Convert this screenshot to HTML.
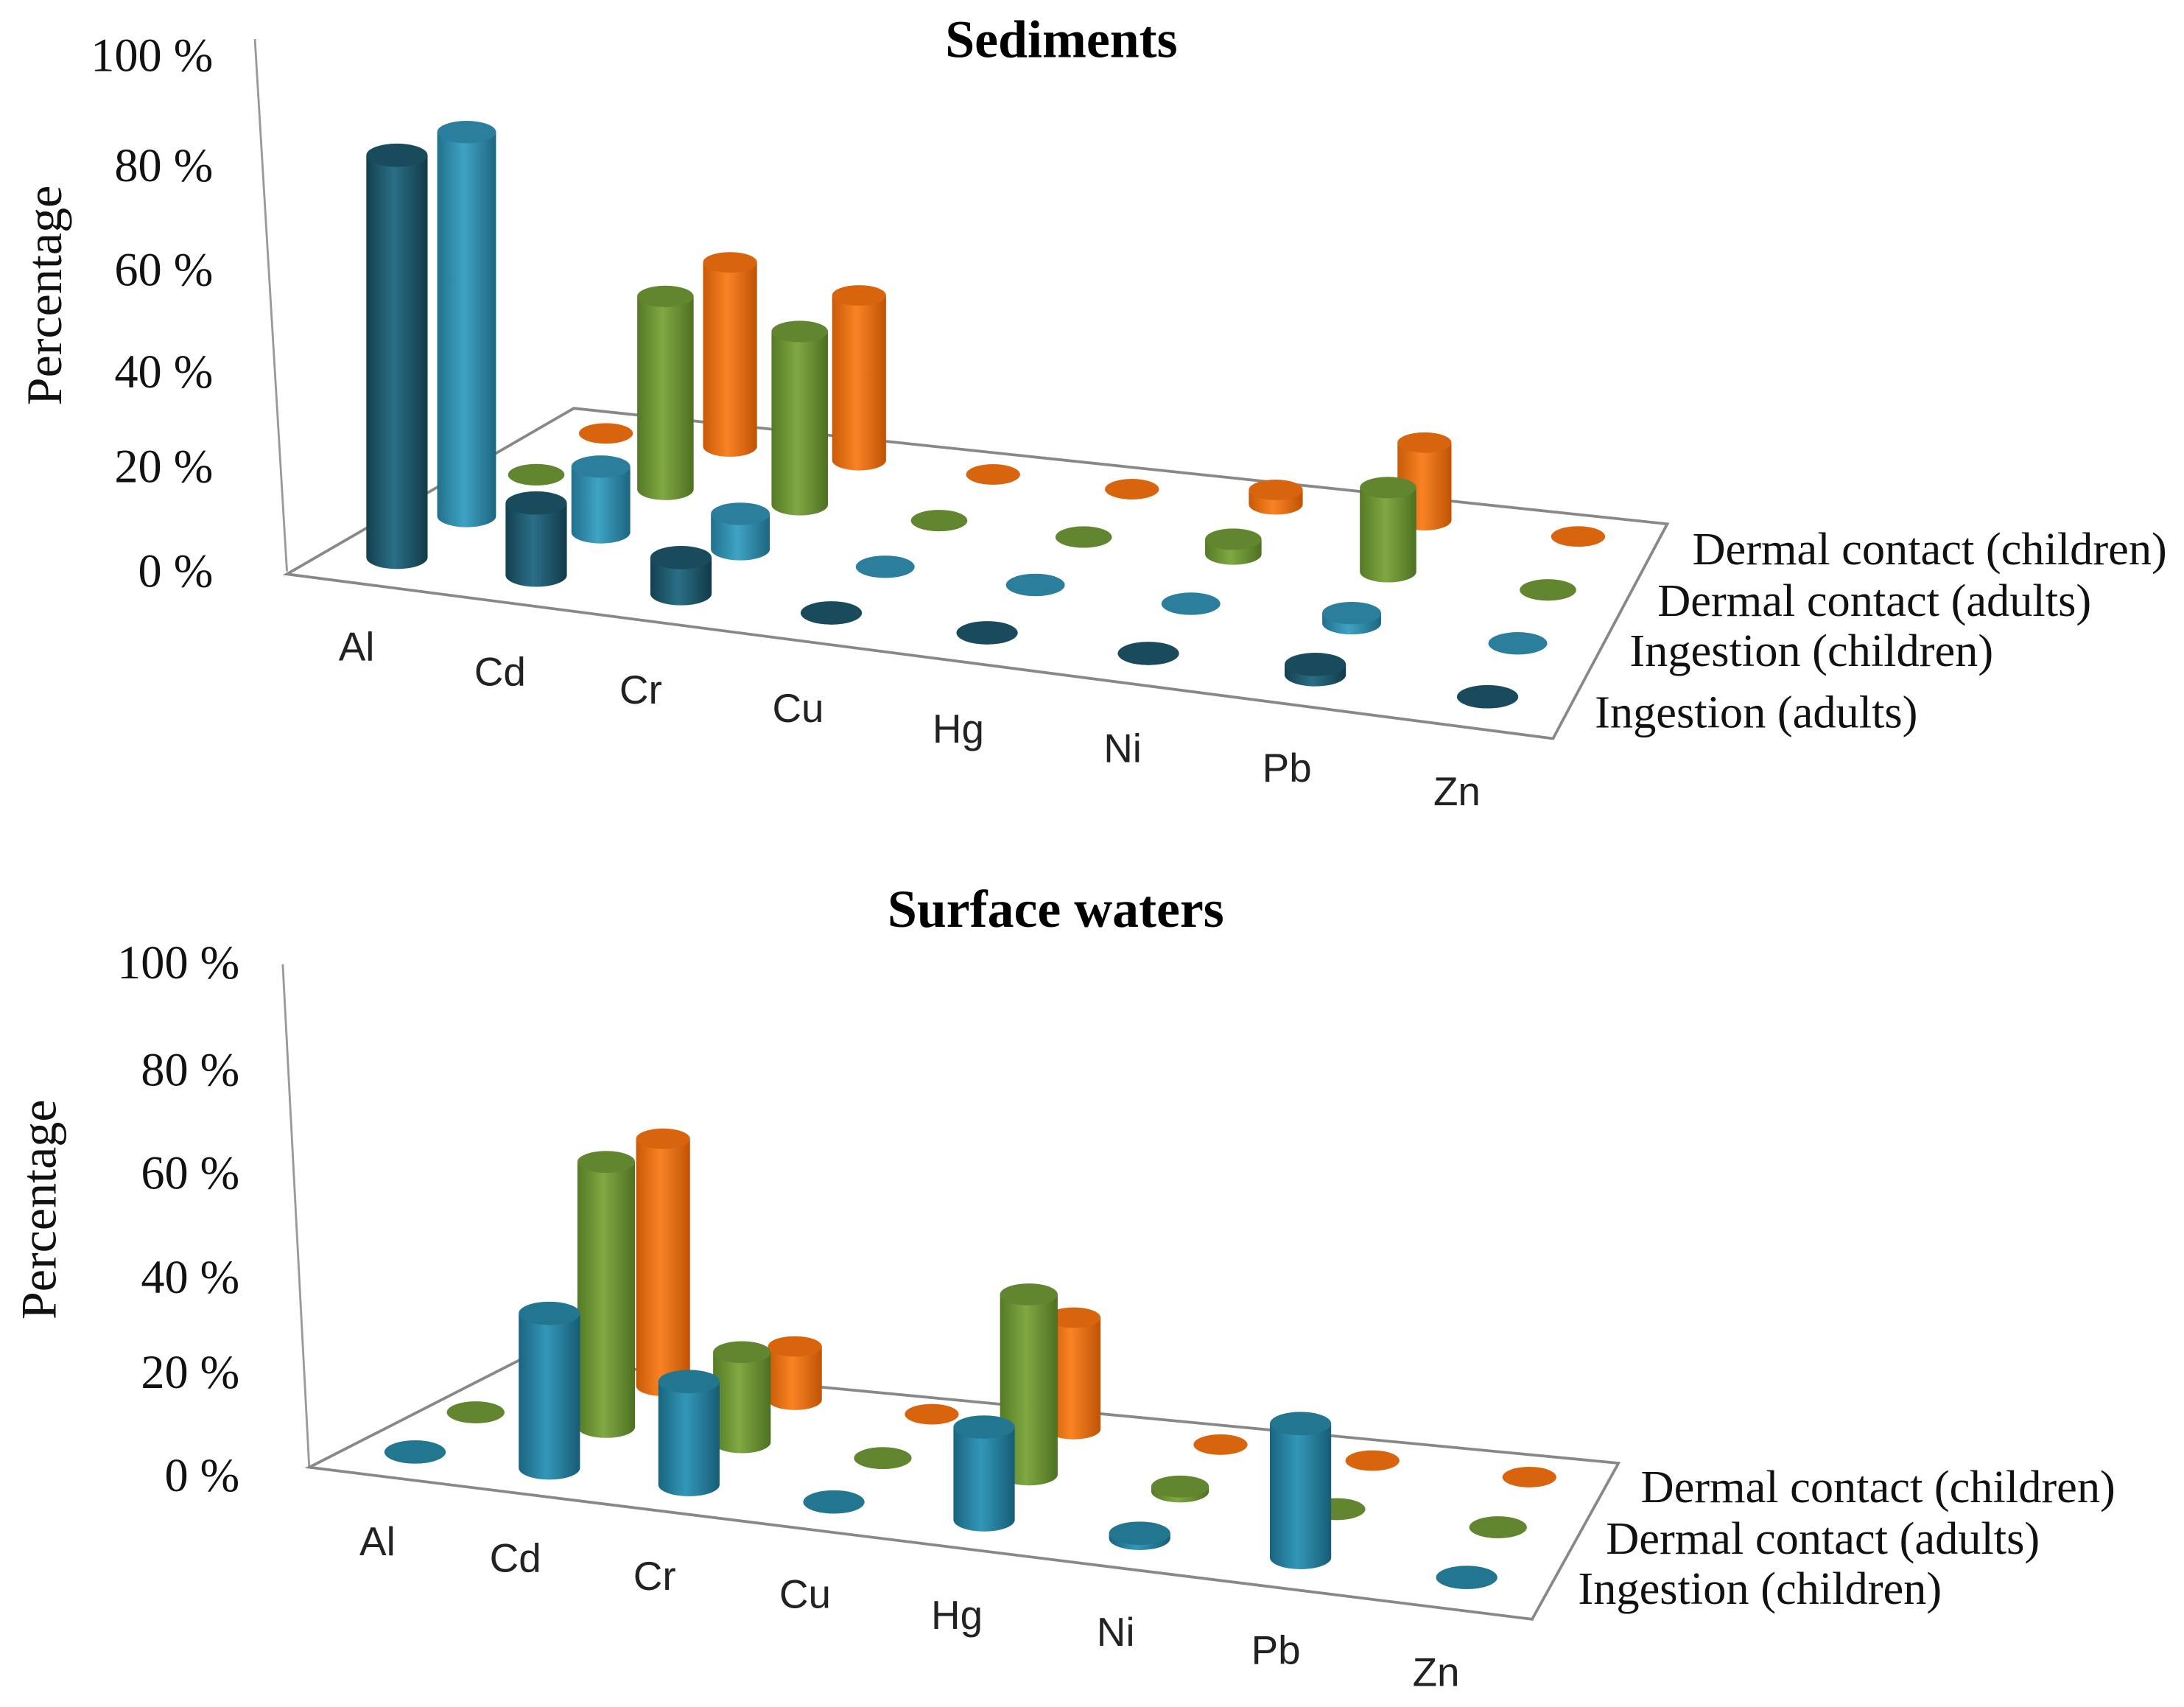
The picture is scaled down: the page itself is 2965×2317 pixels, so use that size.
<!DOCTYPE html>
<html><head><meta charset="utf-8"><style>
html,body{margin:0;padding:0;background:#fff}
svg{display:block}
.tick{font-family:"Liberation Serif",serif;font-size:34px;fill:#111}
.cat{font-family:"Liberation Sans",sans-serif;font-size:29px;fill:#222}
.leg{font-family:"Liberation Serif",serif;font-size:33px;fill:#111}
.ttl{font-family:"Liberation Serif",serif;font-size:38px;font-weight:bold;fill:#000}
</style></head><body>
<svg id="chart" width="2965" height="2317" viewBox="0 0 1568 1225" preserveAspectRatio="none" xmlns="http://www.w3.org/2000/svg">
<defs id="defs"></defs>
<g id="top"></g>
<g id="bot"></g>
</svg>
<script>
const categories = ["Al","Cd","Cr","Cu","Hg","Ni","Pb","Zn"];
const sedSeries = ["Ingestion (adults)","Ingestion (children)","Dermal contact (adults)","Dermal contact (children)"];
const sedIngAdults   = [78, 14, 7, 0, 0, 0, 2, 0];
const sedIngChildren = [76, 13, 7, 0, 0, 0, 2, 0];
const sedDermAdults  = [0, 39, 35, 0, 0, 3, 17, 0];
const sedDermChildren= [0, 38, 34, 0, 0, 3, 16, 0];
const swSeries = ["Ingestion (children)","Dermal contact (adults)","Dermal contact (children)"];
const swIngChildren  = [0, 30, 20, 0, 18, 1, 26, 0];
const swDermAdults   = [0, 53, 18, 0, 36, 1, 0, 0];
const swDermChildren = [null, 51, 11, 0, 23, 0, 0, 0];
const yTicks = ["0 %","20 %","40 %","60 %","80 %","100 %"];

const NS="http://www.w3.org/2000/svg";
function mk(tag,attrs,parent){const e=document.createElementNS(NS,tag);for(const k in attrs)e.setAttribute(k,attrs[k]);parent.appendChild(e);return e;}
const defs=document.getElementById('defs');
const palette={dark:["#14404f","#2a6f86","#123a48"],light:["#22708c","#3fa3c4","#1d6680"],green:["#557a26","#80a843","#4e7022"],orange:["#c95a08","#f98324","#bf5306"],mid:["#1a6580","#3397b8","#175c75"]};
const tops={dark:"#1a4b5c",light:"#2b7f9c",green:"#62852f",orange:"#d8650e",mid:"#22768f"};
for(const k in palette){const g=mk('linearGradient',{id:'g-'+k,x1:0,x2:1,y1:0,y2:0},defs);
 const c=palette[k];mk('stop',{offset:'0',"stop-color":c[0]},g);mk('stop',{offset:'0.45',"stop-color":c[1]},g);mk('stop',{offset:'1',"stop-color":c[2]},g);}
function lerp(a,b,t){return [a[0]+(b[0]-a[0])*t,a[1]+(b[1]-a[1])*t];}
function persp(i){return (98*i+1.98*i*i)/783;}

function drawChart(g,cfg){
 const ax=mk('g',{},g);
 
 
 mk('line',{x1:cfg.vaxis[0][0],y1:cfg.vaxis[0][1],x2:cfg.vaxis[1][0],y2:cfg.vaxis[1][1],stroke:'#999','stroke-width':1.5},ax);
 mk('polygon',{points:cfg.floor.map(p=>p.join(',')).join(' '),fill:'none',stroke:'#888','stroke-width':2},ax);
 yTicks.forEach((t,i)=>{const e=mk('text',{x:cfg.tickX,y:cfg.tickY[i],'text-anchor':'end',class:'tick'},g);e.textContent=t;
  
  });
 const yt=mk('text',{x:0,y:0,transform:`translate(${cfg.ylab[0]},${cfg.ylab[1]}) rotate(-90)`,'text-anchor':'middle',class:'leg',style:'font-size:36px'},g);
 yt.textContent='Percentage';
 
 
 const tt=mk('text',{x:cfg.title[0],y:cfg.title[1],'text-anchor':'middle',class:'ttl'},g);
 tt.textContent=cfg.titleText;
 
 
 categories.forEach((c,i)=>{const e=mk('text',{x:cfg.cat[i][0],y:cfg.cat[i][1],'text-anchor':'middle',class:'cat'},g);e.textContent=c;
  
  });
 cfg.series.forEach((s,j)=>{const e=mk('text',{x:cfg.leg[j][0],y:cfg.leg[j][1],class:'leg'},g);e.textContent=s;
  
  });
 const n=cfg.values.length;
 for(let j=n-1;j>=0;j--){
  const vals=cfg.values[j];const key=cfg.colors[j];
  const t=n>1?j/(n-1):0;
  for(let i=0;i<categories.length;i++){
   const v=vals[i]; if(v===null) continue;
   const u=persp(i);
   const fr=lerp(cfg.rowFront[0],cfg.rowFront[1],u);
   const bk=lerp(cfg.rowBack[0],cfg.rowBack[1],u);
   const p=lerp(fr,bk,t);
   const r=cfg.r*(1-0.12*t), ry=r*0.38;
   const h=v*cfg.k*(1-0.06*t);
   const bg=mk('g',{},g);
   
   
   const x=p[0],y=p[1],yt=y-h;
   mk('path',{d:`M${x-r},${yt} L${x-r},${y} A${r},${ry} 0 0 0 ${x+r},${y} L${x+r},${yt} Z`,fill:`url(#g-${key})`},bg);
   mk('ellipse',{cx:x,cy:yt,rx:r,ry:ry,fill:tops[key]},bg);
  }
 }
}
drawChart(document.getElementById('top'),{
 titleText:'Sediments',title:[762,41],
 vaxis:[[183,28],[206,410]],
 floor:[[206,412],[1115,530],[1197,376],[412,293]],
 tickX:153,tickY:[421,346,278,205,130,51],ylab:[44,212],
 cat:[[256,474],[359,492],[460,505],[573,518],[688,533],[806,547],[924,561],[1046,578]],
 series:sedSeries,leg:[[1145,522],[1170,478],[1190,442],[1215,405]],
 values:[sedIngAdults,sedIngChildren,sedDermAdults,sedDermChildren],
 colors:['dark','light','green','orange'],
 rowFront:[[285,400],[1068,500]],rowBack:[[435,311],[1133,385]],
 r:22,k:3.7
});
drawChart(document.getElementById('bot'),{
 titleText:'Surface waters',title:[758,665],
 vaxis:[[203,692],[222,1053]],
 floor:[[222,1053],[1100,1162],[1162,1050],[375,975]],
 tickX:172,tickY:[1070,996,928,853,779,702],ylab:[40,868],
 cat:[[271,1116],[370,1128],[470,1141],[578,1154],[687,1169],[801,1181],[916,1194],[1031,1210]],
 series:swSeries,leg:[[1133,1151],[1153,1115],[1178,1078]],
 values:[swIngChildren,swDermAdults,swDermChildren],
 colors:['mid','green','orange'],
 rowFront:[[298,1042],[1053,1132]],rowBack:[[385,985],[1098,1060]],
 r:22,k:3.7
});
</script>
</body></html>
